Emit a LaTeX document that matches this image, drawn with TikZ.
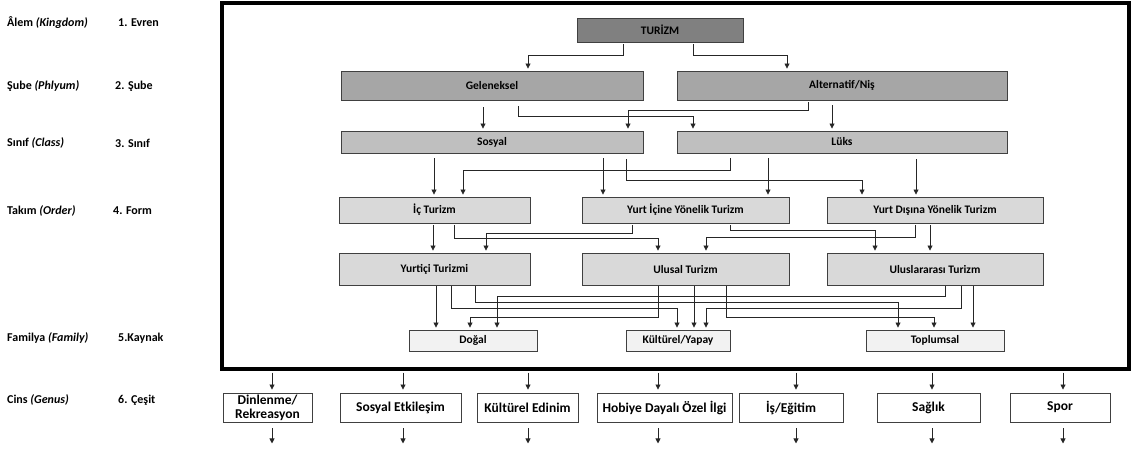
\documentclass[tikz,border=0pt]{standalone}
\usepackage{fontspec}
\setmainfont{Carlito}
\usetikzlibrary{arrows.meta}
\begin{document}
\begin{tikzpicture}[x=1pt,y=-1pt,
  font=\fontsize{11.5}{13}\selectfont\bfseries,
  box/.style={draw=black!75, line width=0.9pt, inner sep=0pt, anchor=center},
  lvA/.style={box, fill=black!50, minimum height=24pt},
  lvB/.style={box, fill=black!35, minimum height=29pt},
  lvC/.style={box, fill=black!25, minimum height=22pt},
  lvD/.style={box, fill=black!15, minimum height=26pt},
  lvE/.style={box, fill=black!15, minimum height=32pt},
  lvF/.style={box, fill=black!5, minimum height=21pt},
  lvG/.style={box, fill=white, minimum height=29pt, font=\fontsize{13.5}{14}\selectfont\bfseries, align=center},
  arr/.style={draw=black!85, line width=0.8pt, -{Triangle[width=5pt,length=5pt]}},
  lab/.style={anchor=west, inner sep=0pt, font=\fontsize{12}{14}\selectfont\bfseries},
  framebox/.style={draw=black, line width=4pt, inner sep=0pt}]
\useasboundingbox (0,0) rectangle (1140,451);

% frame
\node[framebox, minimum width=907pt, minimum height=366pt] (frame) at (675.5,185.5) {};

% left labels
\node[lab] (l1a) at (7,23) {Âlem \textit{(Kingdom)}};
\node[lab] (l1b) at (118,23) {1. Evren};
\node[lab] (l2a) at (7,86) {Şube \textit{(Phlyum)}};
\node[lab] (l2b) at (115,86) {2. Şube};
\node[lab] (l3a) at (7,143) {Sınıf \textit{(Class)}};
\node[lab] (l3b) at (115,143) {3. Sınıf};
\node[lab] (l4a) at (7,211) {Takım \textit{(Order)}};
\node[lab] (l4b) at (113,211) {4. Form};
\node[lab] (l5a) at (7,338) {Familya \textit{(Family)}};
\node[lab] (l5b) at (118,338) {5.Kaynak};
\node[lab] (l6a) at (7,400) {Cins \textit{(Genus)}};
\node[lab] (l6b) at (118,400) {6. Çeşit};

% boxes
\node[lvA, minimum width=166pt] (tur) at (660,30) {TURİZM};
\node[lvB, minimum width=302pt] (gel) at (492,85.5) {Geleneksel};
\node[lvB, minimum width=330pt] (alt) at (842,85.5) {Alternatif/Niş};
\node[lvC, minimum width=302pt] (sos) at (492,142) {Sosyal};
\node[lvC, minimum width=330pt] (luk) at (842,142) {Lüks};
\node[lvD, minimum width=191pt] (ic) at (434.5,210) {İç Turizm};
\node[lvD, minimum width=207pt] (yi) at (685.5,210) {Yurt İçine Yönelik Turizm};
\node[lvD, minimum width=216pt] (yd) at (935,210) {Yurt Dışına Yönelik Turizm};
\node[lvE, minimum width=191pt] (yt) at (434.5,269) {Yurtiçi Turizmi};
\node[lvE, minimum width=207pt] (ul) at (685.5,269) {Ulusal Turizm};
\node[lvE, minimum width=216pt] (ula) at (935,269) {Uluslararası Turizm};
\node[lvF, minimum width=128pt] (dog) at (473,340.5) {Doğal};
\node[lvF, minimum width=104pt] (kul) at (678,340.5) {Kültürel/Yapay};
\node[lvF, minimum width=138pt] (topl) at (935,340.5) {Toplumsal};

\node[lvG, minimum width=89pt] (c1) at (267.5,407.5) {Dinlenme/\\Rekreasyon};
\node[lvG, minimum width=121pt] (c2) at (400.5,407.5) {Sosyal Etkileşim};
\node[lvG, minimum width=101pt] (c3) at (527.5,407.5) {Kültürel Edinim};
\node[lvG, minimum width=135pt] (c4) at (664.5,407.5) {Hobiye Dayalı Özel İlgi};
\node[lvG, minimum width=104pt] (c5) at (791,407.5) {İş/Eğitim};
\node[lvG, minimum width=103pt] (c6) at (928.5,407.5) {Sağlık};
\node[lvG, minimum width=100pt] (c7) at (1060,407.5) {Spor};

% level 1 -> 2
\draw[arr] ([xshift=-37pt,yshift=-2pt]tur.south) -- ++(0,11) -| ([xshift=36pt,yshift=2pt]gel.north);
\draw[arr] ([xshift=33pt,yshift=-2pt]tur.south) -- ++(0,11) -| ([xshift=-55pt,yshift=2pt]alt.north);

% level 2 -> 3
\draw[arr] ([xshift=-9pt,yshift=-7pt]gel.south) -- ([xshift=-9pt,yshift=2pt]sos.north);
\draw[arr] ([xshift=26pt,yshift=-6pt]gel.south) -- ++(0,10) -| ([xshift=-149pt,yshift=2pt]luk.north);
\draw[arr] ([xshift=-34pt,yshift=-2pt]alt.south) -- ++(0,8) -| ([xshift=136pt,yshift=2pt]sos.north);
\draw[arr] ([xshift=-10pt,yshift=-5pt]alt.south) -- ([xshift=-10pt,yshift=2pt]luk.north);

% level 3 -> 4
\draw[arr] ([xshift=-58pt,yshift=-5pt]sos.south) -- ([xshift=-0.5pt,yshift=2pt]ic.north);
\draw[arr] ([xshift=-112pt,yshift=-5pt]luk.south) -- ++(0,12) -| ([xshift=28.5pt,yshift=2pt]ic.north);
\draw[arr] ([xshift=111pt,yshift=-5pt]sos.south) -- ([xshift=-82.5pt,yshift=2pt]yi.north);
\draw[arr] ([xshift=134pt,yshift=-6pt]sos.south) -- ++(0,21) -| ([xshift=-73pt,yshift=2pt]yd.north);
\draw[arr] ([xshift=-74pt,yshift=-5pt]luk.south) -- ([xshift=82.5pt,yshift=2pt]yi.north);
\draw[arr] ([xshift=74pt,yshift=-6pt]luk.south) -- ([xshift=-19pt,yshift=2pt]yd.north);

% level 4 -> 5
\draw[arr] ([xshift=-1.5pt,yshift=-2pt]ic.south) -- ([xshift=-1.5pt,yshift=2pt]yt.north);
\draw[arr] ([xshift=19.5pt,yshift=-2pt]ic.south) -- ++(0,13) -| ([xshift=-27.5pt,yshift=2pt]ul.north);
\draw[arr] ([xshift=-53.5pt,yshift=-2pt]yi.south) -- ++(0,8) -| ([xshift=51.5pt,yshift=2pt]yt.north);
\draw[arr] ([xshift=44.5pt,yshift=-2pt]yi.south) -- ++(0,5) -| ([xshift=-60pt,yshift=2pt]ula.north);
\draw[arr] ([xshift=-20pt,yshift=-2pt]yd.south) -- ++(0,12) -| ([xshift=20.5pt,yshift=2pt]ul.north);
\draw[arr] ([xshift=-5pt,yshift=-2pt]yd.south) -- ([xshift=-5pt,yshift=2pt]ula.north);

% level 5 -> 6
\draw[arr] ([xshift=1.5pt,yshift=-1pt]yt.south) -- ([xshift=-37pt,yshift=2pt]dog.north);
\draw[arr] ([xshift=16.5pt,yshift=-1pt]yt.south) -- ++(0,22) -| ([xshift=-1pt,yshift=2pt]kul.north);
\draw[arr] ([xshift=40.5pt,yshift=-1pt]yt.south) -- ++(0,16) -| ([xshift=-37pt,yshift=2pt]topl.north);
\draw[arr] ([xshift=-27.5pt,yshift=-1pt]ul.south) -- ++(0,31) -| ([xshift=-3pt,yshift=2pt]dog.north);
\draw[arr] ([xshift=8.5pt,yshift=-1pt]ul.south) -- ([xshift=16pt,yshift=2pt]kul.north);
\draw[arr] ([xshift=40.5pt,yshift=-1pt]ul.south) -- ++(0,31) -| ([xshift=-1pt,yshift=2pt]topl.north);
\draw[arr] ([xshift=10pt,yshift=-1pt]ula.south) -- ++(0,10) -| ([xshift=24pt,yshift=2pt]dog.north);
\draw[arr] ([xshift=26pt,yshift=-1pt]ula.south) -- ++(0,22) -| ([xshift=28pt,yshift=2pt]kul.north);
\draw[arr] ([xshift=38pt,yshift=-1pt]ula.south) -- ([xshift=38pt,yshift=2pt]topl.north);

% genus arrows
\foreach \n/\d in {c1/4.5,c2/2.5,c3/0.5,c4/-6.5,c5/5,c6/3.5,c7/3}{
  \draw[arr] ([xshift=\d pt,yshift=20pt]\n.north) -- ([xshift=\d pt,yshift=3pt]\n.north);
  \draw[arr] ([xshift=\d pt,yshift=-6pt]\n.south) -- ([xshift=\d pt,yshift=-21pt]\n.south);
}
\end{tikzpicture}
\end{document}
